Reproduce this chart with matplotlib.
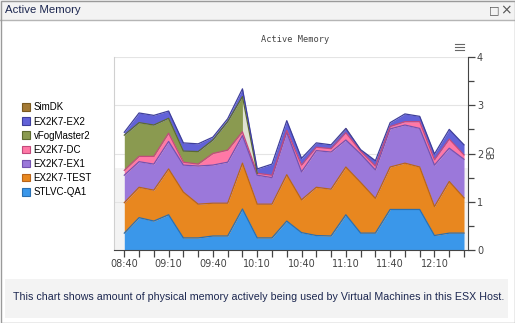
import numpy as np
import pandas as pd
import matplotlib
matplotlib.use("Agg")
import matplotlib.pyplot as plt
import matplotlib.dates as mdates
from matplotlib.patches import Patch, Rectangle
from matplotlib.lines import Line2D

# sample times (10 minute steps)
times = ["08:40", "08:50", "09:00", "09:10", "09:20", "09:30", "09:40", "09:50",
         "10:00", "10:10", "10:20", "10:30", "10:40", "10:50", "11:00", "11:10",
         "11:20", "11:30", "11:40", "11:50", "12:00", "12:10", "12:20", "12:30"]

# active memory per VM, GB (stacked bottom -> top)
stlvc_qa1 = [0.35, 0.67, 0.60, 0.73, 0.25, 0.25, 0.29, 0.29, 0.85, 0.25, 0.25, 0.60,
             0.36, 0.30, 0.29, 0.73, 0.35, 0.35, 0.84, 0.84, 0.84, 0.30, 0.35, 0.35]
ex2k7_test = [0.63, 0.63, 0.64, 0.95, 0.95, 0.70, 0.68, 0.68, 0.95, 0.70, 0.70, 0.96,
              0.68, 1.00, 0.97, 0.99, 1.05, 0.72, 0.88, 0.96, 0.88, 0.60, 1.07, 0.73]
ex2k7_ex1 = [0.57, 0.53, 0.54, 0.57, 0.56, 0.79, 0.79, 0.85, 0.57, 0.60, 0.55, 0.88,
             0.58, 0.76, 0.77, 0.56, 0.59, 0.59, 0.79, 0.79, 0.80, 0.86, 0.69, 0.80]
ex2k7_dc = [0.10, 0.11, 0.16, 0.17, 0.06, 0.04, 0.24, 0.25, 0.08, 0.04, 0.05, 0.04,
            0.14, 0.07, 0.07, 0.15, 0.06, 0.08, 0.05, 0.07, 0.14, 0.11, 0.19, 0.09]
vfogmaster2 = [0.73, 0.70, 0.65, 0.31, 0.23, 0.26, 0.28, 0.59, 0.73, 0.0, 0.0, 0.0,
               0.0, 0.0, 0.0, 0.0, 0.0, 0.0, 0.0, 0.0, 0.0, 0.0, 0.0, 0.0]
ex2k7_ex2 = [0.06, 0.20, 0.20, 0.15, 0.17, 0.16, 0.06, 0.06, 0.16, 0.09, 0.23, 0.20,
             0.14, 0.09, 0.08, 0.09, 0.03, 0.11, 0.08, 0.16, 0.11, 0.12, 0.20, 0.21]
simdk = [0.0, 0.0, 0.0, 0.0, 0.0, 0.0, 0.0, 0.0, 0.0, 0.0, 0.0, 0.0,
         0.0, 0.0, 0.0, 0.02, 0.0, 0.0, 0.0, 0.0, 0.0, 0.0, 0.0, 0.0]

names = ["STLVC-QA1", "EX2K7-TEST", "EX2K7-EX1", "EX2K7-DC", "vFogMaster2", "EX2K7-EX2", "SimDK"]
series = [stlvc_qa1, ex2k7_test, ex2k7_ex1, ex2k7_dc, vfogmaster2, ex2k7_ex2, simdk]
fills = ["#3a97ea", "#e8871f", "#9b78da", "#ff78a6", "#8a9a50", "#6262d8", "#a47a34"]
edges = ["#2a6fb0", "#b8641a", "#7452b0", "#c24a7c", "#5c6a30", "#3e3e9a", "#7a5a20"]

x = mdates.date2num(pd.to_datetime(["2024-01-01 " + t for t in times]))
idx = np.arange(len(times))
stack = np.cumsum(np.array(series), axis=0)

fig = plt.figure(figsize=(5.15, 3.23), dpi=100)
W, H = 515, 323

# window chrome
fig.add_artist(Rectangle((0, 1 - 20 / H), 1, 20 / H, transform=fig.transFigure,
                         facecolor="#f3f3f3", edgecolor="none", zorder=0))
fig.add_artist(Line2D([0, 1], [1 - 20 / H, 1 - 20 / H], transform=fig.transFigure,
                      color="#b5b5b5", lw=1))
fig.add_artist(Rectangle((0.5 / W, 0.5 / H), 1 - 1 / W, 1 - 1 / H, transform=fig.transFigure,
                         facecolor="none", edgecolor="#9a9a9a", lw=1, zorder=5))
fig.text(5 / W, 1 - 10 / H, "Active Memory", fontsize=8.2, color="#1c2750",
         family="Liberation Sans", va="center", ha="left")
fig.text(494 / W, 1 - 10 / H, "\u25a1", fontsize=8, color="#555555", va="center", ha="center")
fig.text(506 / W, 1 - 10 / H, "\u00d7", fontsize=10, color="#555555", va="center", ha="center")

# description box
fig.add_artist(Rectangle((5 / W, 1 - 318 / H), 503 / W, 39 / H, transform=fig.transFigure,
                         facecolor="#f3f3f3", edgecolor="none", zorder=0))
fig.text(13 / W, 1 - 297 / H,
         "This chart shows amount of physical memory actively being used by Virtual Machines in this ESX Host.",
         fontsize=7.7, color="#1c2750", family="Liberation Sans", va="center", ha="left")

# chart title and menu icon
fig.text(295 / W, 1 - 39 / H, "Active Memory", fontsize=6.2, color="#444444",
         family="DejaVu Sans Mono", va="center", ha="center")
for k in range(3):
    yy = 1 - (44 + 3 * k) / H
    fig.add_artist(Line2D([455 / W, 456.5 / W], [yy, yy], transform=fig.transFigure, color="#666666", lw=0.8))
    fig.add_artist(Line2D([458 / W, 464 / W], [yy, yy], transform=fig.transFigure, color="#666666", lw=0.8))

ax = fig.add_axes([114 / W, 1 - 250 / H, 354 / W, 193 / H])
ax.axhspan(0, 1.7, color="#f3f3f3", zorder=0, lw=0)
for g in [1, 2, 3, 4]:
    ax.axhline(g, color="#e4e4e4", lw=0.8, zorder=0.5)

lower = np.zeros(len(times))
for i, name in enumerate(names):
    upper = stack[i]
    if name == "vFogMaster2":
        ax.fill_between(x, lower, upper, where=idx <= 8, color=fills[i], lw=0, zorder=2)
        ax.fill_between(x, lower, upper, where=(idx >= 8) & (idx <= 9), color="#dfe3d3", lw=0, zorder=2)
        ax.plot(x[:10], upper[:10], color=edges[i], lw=0.9, zorder=3)
    elif name == "SimDK":
        ax.fill_between(x, lower, upper, color=fills[i], lw=0, zorder=2)
    else:
        ax.fill_between(x, lower, upper, color=fills[i], lw=0, zorder=2)
        ax.plot(x, upper, color=edges[i], lw=0.9, zorder=3)
    lower = upper

ax.set_ylim(0, 4)
ax.set_xlim(x[0] - 6.97 / 1440, x[-1] + 2.7 / 1440)
ax.yaxis.tick_right()
ax.yaxis.set_label_position("right")
ax.set_yticks([0, 1, 2, 3, 4])
ax.set_yticks([0.5, 1.5, 2.5, 3.5], minor=True)
ax.set_ylabel("GB", rotation=-90, fontsize=7, color="#444444", va="center")
ax.yaxis.set_label_coords((487 - 114) / 354, 0.5)

ax.xaxis.set_major_locator(mdates.MinuteLocator(byminute=[10, 40]))
ax.xaxis.set_minor_locator(mdates.MinuteLocator(byminute=[0, 20, 30, 50]))
ax.xaxis.set_major_formatter(mdates.DateFormatter("%H:%M"))

ax.tick_params(axis="both", which="both", direction="out", colors="#444444", labelsize=7,
               width=0.9, pad=1.5)
ax.tick_params(axis="both", which="major", length=5)
ax.tick_params(axis="both", which="minor", length=5)
ax.tick_params(axis="y", which="minor", length=4)
for lab in ax.get_xticklabels() + ax.get_yticklabels():
    lab.set_color("#444444")

ax.spines["top"].set_visible(False)
ax.spines["left"].set_color("#d0d0d0")
ax.spines["right"].set_color("#444444")
ax.spines["bottom"].set_color("#444444")
ax.set_facecolor("white")

handles = [Patch(facecolor=fills[i], edgecolor=edges[i], lw=0.8, label=names[i])
           for i in range(len(names) - 1, -1, -1)]
fig.legend(handles=handles, loc="upper left", bbox_to_anchor=(22 / W, 1 - 102.5 / H),
           frameon=False, handlelength=0.85, handleheight=0.85,
           handletextpad=0.35, labelspacing=0.42, borderpad=0, borderaxespad=0,
           prop={"family": "Liberation Sans", "size": 7})

fig.savefig("out.png", dpi=100)
